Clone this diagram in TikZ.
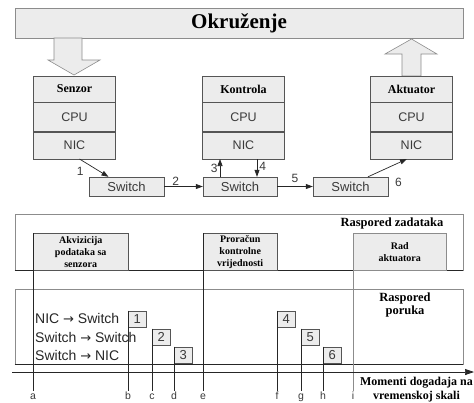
\documentclass[tikz,border=0pt]{standalone}
\usepackage{fontspec}
\setmainfont{Liberation Serif}
\setsansfont{Liberation Sans}
\newfontfamily\arrowfont{DejaVu Sans}
\usetikzlibrary{arrows.meta}

\definecolor{boxfill}{HTML}{ECECEC}
\definecolor{boxline}{HTML}{555555}
\definecolor{softline}{HTML}{8C8C8C}
\definecolor{numtext}{HTML}{3A3A3A}

\newcommand{\toarrow}{{\arrowfont\fontsize{13}{16}\selectfont →}}

\begin{document}
\begin{tikzpicture}[x=1pt,y=-1pt,
  unit/.style={draw=boxline,fill=boxfill,minimum width=82pt,inner sep=0pt},
  head/.style={unit,minimum height=26pt,font=\fontsize{12}{14}\selectfont\bfseries},
  part/.style={unit,font=\sffamily\fontsize{12.5}{14}\selectfont,text=numtext},
  switchbox/.style={draw=boxline,fill=boxfill,minimum width=75pt,minimum height=19pt,inner sep=0pt,font=\sffamily\fontsize{13}{15}\selectfont,text=numtext},
  link/.style={-{Triangle[length=7pt,width=5pt]},black!85,line width=0.7pt},
  num/.style={font=\sffamily\fontsize{12}{14}\selectfont,text=numtext,inner sep=1pt},
  bigarrow/.style={draw=softline,fill=boxfill,line width=0.6pt},
  lane/.style={draw=softline,line width=0.6pt,inner sep=0pt,minimum width=448pt},
  task/.style={draw=boxline,fill=boxfill,anchor=north west,inner sep=0pt,minimum height=37pt,align=center,font=\fontsize{10}{12}\selectfont\bfseries},
  slot/.style={draw=boxline,fill=boxfill,minimum width=18pt,minimum height=16pt,inner sep=0pt,anchor=south west,font=\sffamily\fontsize{13}{15}\selectfont,text=numtext},
  row/.style={anchor=west,inner sep=0pt,font=\sffamily\fontsize{14}{16}\selectfont,text=black!85},
  tick/.style={black!85,line width=0.6pt},
  letter/.style={anchor=base,inner sep=0pt,font=\sffamily\fontsize{10.5}{12}\selectfont,text=numtext},
  title/.style={font=\fontsize{12.5}{13.5}\selectfont\bfseries}
]
\useasboundingbox (0,0) rectangle (474,402);

\node[draw=softline,fill=boxfill,minimum width=448pt,minimum height=30pt,font=\fontsize{21}{24}\selectfont\bfseries] (okruzenje) at (239,23.5) {Okruženje};

\draw[bigarrow] (54,38) -- (54,60) -- (48,60) -- (74,75) -- (100,60) -- (82,60) -- (82,38) -- cycle;
\draw[bigarrow] (402,76) -- (402,54) -- (385,54) -- (411.5,39) -- (437,54) -- (421,54) -- (421,76) -- cycle;

\foreach \dev/\cx/\name in {senzor/74.5/Senzor, kontrola/243.5/Kontrola, aktuator/411.5/Aktuator} {
  \node[head] (\dev) at (\cx,89) {\name};
  \node[part,minimum height=29pt,anchor=north] (\dev-cpu) at (\dev.south) {CPU};
  \node[part,minimum height=27pt,anchor=north] (\dev-nic) at (\dev-cpu.south) {NIC};
}

\node[switchbox] (sw1) at (126.5,186.5) {Switch};
\node[switchbox,minimum width=74pt] (sw2) at (240,186.5) {Switch};
\node[switchbox] (sw3) at (350.5,186.5) {Switch};

\coordinate (k3) at ([xshift=-20pt]sw2.north);
\coordinate (k4) at ([xshift=13.5pt]kontrola-nic.south);
\draw[link] ([xshift=5pt]senzor-nic.south) -- ([xshift=-18pt]sw1.north) node[num,pos=0.7,left=15pt] (n1) {1};
\draw[link] (sw1.east) -- (sw2.west) node[num,pos=0.3,above=0pt] (n2) {2};
\draw[link] (k3) -- (k3 |- kontrola-nic.south) node[num,pos=0.5,left=1pt] (n3) {3};
\draw[link] (k4) -- (k4 |- sw2.north) node[num,pos=0.4,right=1pt] (n4) {4};
\draw[link] (sw2.east) -- (sw3.west) node[num,pos=0.5,above=3pt] (n5) {5};
\draw[link] ([xshift=17.5pt]sw3.north) -- ([xshift=-4.5pt]aktuator-nic.south) node[num,pos=0.3,anchor=north west,xshift=14pt,yshift=-5pt] (n6) {6};

\node[lane,minimum height=56pt] (zadaci) at (239,242) {};
\draw[black!85] (zadaci.south west) -- (zadaci.south east);
\node[title] (zadacinaslov) at (392,223) {Raspored zadataka};
\node[task,minimum width=95pt] (akv) at (33,233) {Akvizicija\\podataka sa\\senzora};
\node[task,minimum width=74pt] (prr) at (203,233) {Proračun\\kontrolne\\vrijednosti};
\node[task,draw=softline,minimum width=93pt] (rad) at (353,233) {Rad\\aktuatora};

\node[lane,minimum height=75pt] (poruke) at (239,326.5) {};
\draw[black!85] (poruke.south west) -- (poruke.south east);
\node[title,align=center] (porukenaslov) at (405,305) {Raspored\\poruka};

\node[row] (r1) at (35,318) {NIC \toarrow\ Switch};
\node[row] (r2) at (35,337) {Switch \toarrow\ Switch};
\node[row] (r3) at (35,355) {Switch \toarrow\ NIC};

\foreach \m/\x/\y in {1/128/327, 2/152/345, 3/174/363, 4/277/327, 5/301/345, 6/323/363}
  \node[slot] (m\m) at (\x,\y) {\m};

\coordinate (tickend) at (0,391);
\coordinate (letterline) at (0,399.5);
\foreach \n/\t in {akv/a, m1/b, m2/c, m3/d, prr/e, m4/f, m5/g, m6/h} {
  \draw[tick] (\n.north west) -- (\n.north west |- tickend);
  \node[letter] (lbl\t) at (\n.north west |- letterline) {\t};
}
\draw[tick,softline] (rad.north west) -- (rad.north west |- tickend);
\node[letter] (lbli) at (rad.north west |- letterline) {i};

\coordinate (axis0) at (12,372);
\coordinate (axis1) at (474,372);
\draw[-{Triangle[length=9pt,width=6pt]},black!85,line width=0.7pt] (axis0) -- (axis1);
\node[align=center,font=\fontsize{12}{14}\selectfont\bfseries] (momenti) at (416.5,389.5) {Momenti dogadaja na\\vremenskoj skali};
\end{tikzpicture}
\end{document}
